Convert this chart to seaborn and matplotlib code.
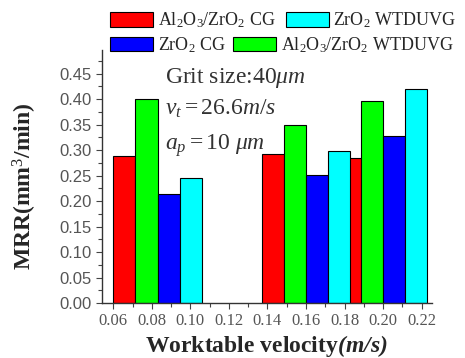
import numpy as np
import pandas as pd
import matplotlib
matplotlib.use('Agg')
import matplotlib.pyplot as plt
from matplotlib.patches import Patch
from matplotlib.ticker import MultipleLocator
import seaborn as sns

# --- data ---
velocity = [0.083, 0.16, 0.20]            # worktable velocity (m/s), group centres
series = [r'Al$_2$O$_3$/ZrO$_2$ CG',
          r'Al$_2$O$_3$/ZrO$_2$ WTDUVG',
          r'ZrO$_2$ CG',
          r'ZrO$_2$ WTDUVG']
mrr_al_cg = [0.288, 0.292, 0.284]
mrr_al_wtduvg = [0.400, 0.349, 0.397]
mrr_zr_cg = [0.213, 0.252, 0.328]
mrr_zr_wtduvg = [0.245, 0.299, 0.419]
colors = ['#ff0000', '#00ff00', '#0000ff', '#00ffff']
x_ticks = [0.06, 0.08, 0.10, 0.12, 0.14, 0.16, 0.18, 0.20, 0.22]
y_ticks = [0.00, 0.05, 0.10, 0.15, 0.20, 0.25, 0.30, 0.35, 0.40, 0.45]

df = pd.DataFrame({
    'velocity': velocity * 4,
    'series': np.repeat(series, 3),
    'mrr': mrr_al_cg + mrr_al_wtduvg + mrr_zr_cg + mrr_zr_wtduvg,
})
palette = dict(zip(series, colors))

sns.set_style('ticks')
plt.rcParams['font.family'] = ['Liberation Serif', 'DejaVu Serif']
plt.rcParams['mathtext.fontset'] = 'custom'
plt.rcParams['mathtext.rm'] = 'Liberation Serif'
plt.rcParams['mathtext.it'] = 'Liberation Serif:italic'
plt.rcParams['mathtext.bf'] = 'Liberation Serif:bold'
plt.rcParams['mathtext.bfit'] = 'Liberation Serif:italic:bold'

fig = plt.figure(figsize=(4.65, 3.58), dpi=100)
ax = fig.add_axes([0.2187, 0.1536, 0.7097, 0.7064])

sns.barplot(data=df, x='velocity', y='mrr', hue='series', hue_order=series,
            palette=palette, native_scale=True, dodge=True, width=1.15,
            errorbar=None, edgecolor='black', linewidth=0.8, saturation=1,
            legend=False, ax=ax)

ax.set_xlim(0.054, 0.2252)
ax.set_ylim(0, 0.496)
ax.set_xticks(x_ticks)
ax.set_xticklabels([f'{v:.2f}' for v in x_ticks], fontsize=12, color='#555555')
ax.set_yticks(y_ticks)
ax.set_yticklabels([f'{v:.2f}' for v in y_ticks], fontsize=12, color='#555555',
                   family='Liberation Sans')
ax.xaxis.set_minor_locator(MultipleLocator(0.01))
ax.yaxis.set_minor_locator(MultipleLocator(0.025))
ax.tick_params(which='both', direction='out', color='#444444', width=0.8)
ax.tick_params(which='major', length=4, pad=3)
ax.tick_params(which='minor', length=3)
sns.despine(ax=ax)
for sp in ['left', 'bottom']:
    ax.spines[sp].set_color('#333333')
    ax.spines[sp].set_linewidth(1.0)

ax.set_xlabel(r'Worktable velocity$\mathbfit{(m/s)}$', fontsize=17, fontweight='bold')
ax.set_ylabel(r'MRR(mm$^3$/min)', fontsize=17, fontweight='bold')
ax.xaxis.set_label_coords(0.5, -0.12)
ax.yaxis.set_label_coords(-0.19, 0.46)

# process conditions
ax.text(0.192, 0.869, r'Grit size:40$\mathit{\mu m}$', transform=ax.transAxes,
        fontsize=17, va='baseline', color='#333333')
ax.text(0.192, 0.743, r'$\mathit{v_t=26.6m/s}$', transform=ax.transAxes,
        fontsize=17, va='baseline', color='#333333')
ax.text(0.192, 0.605, r'$\mathit{a_p=10\ \mu m}$', transform=ax.transAxes,
        fontsize=17, va='baseline', color='#333333')

# legend in two rows, like the original
h = {s: Patch(facecolor=c, edgecolor='black', linewidth=0.8) for s, c in palette.items()}
common = dict(frameon=False, fontsize=13, borderpad=0, borderaxespad=0,
              handlelength=2.4, handleheight=0.85, handletextpad=0.25,
              loc='center left')
leg1 = fig.legend([h[series[0]], h[series[3]]], [series[0], series[3]], ncol=2,
                  bbox_to_anchor=(0.2366, 0.943), columnspacing=0.55, **common)
leg2 = fig.legend([h[series[2]], h[series[1]]], [series[2], series[1]], ncol=2,
                  bbox_to_anchor=(0.2366, 0.874), columnspacing=0.4, **common)

fig.savefig('out.png', dpi=100)
